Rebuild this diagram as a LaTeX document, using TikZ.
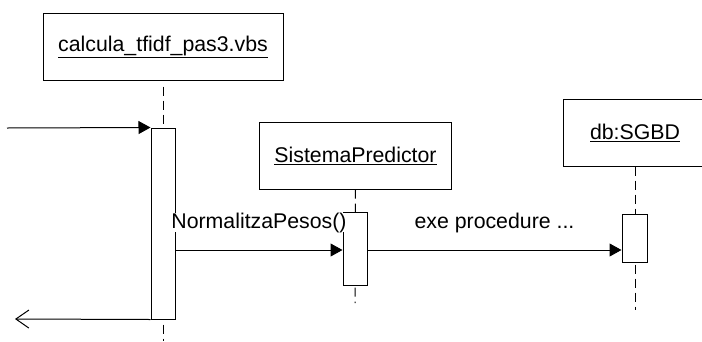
\documentclass[tikz,border=0pt]{standalone}
\usepackage{fontspec}
\setmainfont{Liberation Sans}
\usetikzlibrary{arrows.meta, positioning}
\tikzset{
  objbox/.style={rectangle, draw=black, fill=white, line width=1pt,
                 minimum height=67pt, inner sep=0pt,
                 font=\fontsize{21.3}{25}\selectfont},
  actbox/.style={rectangle, draw=black, fill=white, line width=1pt,
                 minimum width=24pt, inner sep=0pt},
  lifeline/.style={line width=1pt, dash pattern=on 9pt off 5pt},
  callarrow/.style={-{Triangle[length=12pt,width=13pt]}, line width=1pt},
  backarrow/.style={-{Straight Barb[length=13pt,width=18pt]}, line width=1pt},
  msglabel/.style={font=\fontsize{21.3}{25}\selectfont, fill=white,
                   inner sep=0pt, anchor=base}
}
\begin{document}
\begin{tikzpicture}[x=1pt, y=-1pt]
  \useasboundingbox (0,0) rectangle (702,341);

  % Objects
  \node[objbox, minimum width=240pt] (script) at (163,46.5)
      {\underline{calcula\_tfidf\_pas3.vbs}};
  \node[objbox, minimum width=192pt] (predictor) at (355.5,155.5)
      {\underline{SistemaPredictor}};
  \node[objbox, minimum width=144pt] (sgbd) at (635,132.5)
      {\underline{db:SGBD}};

  % Lifelines
  \coordinate (end1) at (163,341);
  \coordinate (end2) at (355,303);
  \coordinate (end3) at (635,310);
  \draw[lifeline] ([yshift=-6pt]script.south) -- (end1);
  \draw[lifeline] (predictor.south) -- (end2);
  \draw[lifeline] (sgbd.south) -- (end3);

  % Activations
  \node[actbox, minimum height=191pt] (act1) at (163,223.5) {};
  \node[actbox, minimum height=73pt]  (act2) at (355,248.5) {};
  \node[actbox, minimum height=48pt, minimum width=25pt] (act3) at (634.5,238) {};

  % Messages
  \coordinate (start) at (7,128);
  \coordinate (back) at (15,319);
  \coordinate (msg) at (0,250);
  \draw[callarrow] (start) -- (act1.north west);
  \draw[backarrow] (act1.south west) -- (back);
  \draw[callarrow] (act1.east |- msg) -- (act2.west |- msg)
      node[msglabel, midway, yshift=22pt] {NormalitzaPesos()};
  \draw[callarrow] (act2.east |- msg) -- (act3.west |- msg)
      node[msglabel, midway, yshift=22pt] {exe procedure ...};
\end{tikzpicture}
\end{document}
